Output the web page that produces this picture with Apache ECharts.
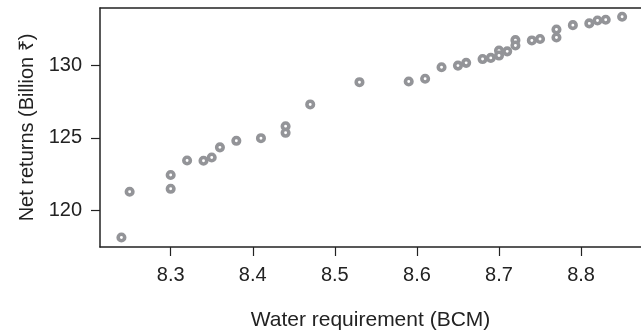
<!DOCTYPE html>
<html>
<head>
<meta charset="utf-8">
<script src="https://cdn.jsdelivr.net/npm/echarts@6/dist/echarts.min.js"></script>
<style>
  html, body { margin: 0; padding: 0; background: #fff; }
  #chart { width: 641px; height: 336px; }
</style>
</head>
<body>
<div id="chart"></div>
<script>
// water requirement (BCM) vs net returns (billion rupees)
var waterReq = [8.24, 8.25, 8.30, 8.30, 8.32, 8.34, 8.35, 8.36, 8.38, 8.41, 8.44, 8.44, 8.47, 8.53,
                8.59, 8.61, 8.63, 8.65, 8.66, 8.68, 8.69, 8.70, 8.70, 8.71, 8.72, 8.72, 8.74, 8.75,
                8.77, 8.77, 8.79, 8.81, 8.82, 8.83, 8.85];
var netReturns = [118.15, 121.3, 122.45, 121.5, 123.45, 123.43, 123.65, 124.35, 124.8, 124.98, 125.8, 125.35, 127.3, 128.83,
                  128.88, 129.07, 129.86, 129.97, 130.16, 130.42, 130.5, 131.0, 130.66, 130.95, 131.72, 131.35, 131.7, 131.8,
                  132.45, 131.9, 132.75, 132.87, 133.07, 133.12, 133.33];
var xTicks = [8.3, 8.4, 8.5, 8.6, 8.7, 8.8];
var yTicks = [120, 125, 130];

var font = '"Liberation Sans", Arial, Helvetica, sans-serif';
var ink = '#222';

var points = waterReq.map(function (w, i) { return [w, netReturns[i]]; });

var chart = echarts.init(document.getElementById('chart'), null, { renderer: 'canvas' });
chart.setOption({
    animation: false,
    backgroundColor: '#fff',
    grid: { left: 100, right: 0, top: 8, bottom: 87 },
    xAxis: [{
        type: 'value',
        min: 8.2139,
        max: 8.873,
        name: 'Water requirement (BCM)',
        nameLocation: 'middle',
        nameGap: 63,
        nameTextStyle: { fontFamily: font, fontSize: 21, color: ink },
        axisLine: { show: true, lineStyle: { color: ink, width: 1.5 } },
        axisTick: { show: true, length: 9, lineStyle: { color: ink, width: 1.2 }, customValues: xTicks },
        axisLabel: { fontFamily: font, fontSize: 20, color: ink, margin: 18, customValues: xTicks,
                     formatter: function (v) { return v.toFixed(1); } },
        splitLine: { show: false }
    }, {
        // top frame line only
        type: 'value',
        position: 'top',
        min: 8.2139,
        max: 8.873,
        axisLine: { show: true, lineStyle: { color: ink, width: 1.5 } },
        axisTick: { show: false },
        axisLabel: { show: false },
        splitLine: { show: false }
    }],
    yAxis: {
        type: 'value',
        min: 117.5,
        max: 133.93,
        name: 'Net returns (Billion ₹)',
        nameLocation: 'middle',
        nameGap: 62,
        nameTextStyle: { fontFamily: font, fontSize: 20, color: ink },
        axisLine: { show: true, lineStyle: { color: ink, width: 1.5 } },
        axisTick: { show: true, length: 9, lineStyle: { color: ink, width: 1.2 }, customValues: yTicks },
        axisLabel: { fontFamily: font, fontSize: 20, color: ink, margin: 18, customValues: yTicks },
        splitLine: { show: false }
    },
    series: [{
        type: 'scatter',
        xAxisIndex: 0,
        symbol: 'circle',
        symbolSize: 6.5,
        itemStyle: { color: '#fff', borderColor: '#939498', borderWidth: 3.6, opacity: 1 },
        data: points
    }]
});
</script>
</body>
</html>
